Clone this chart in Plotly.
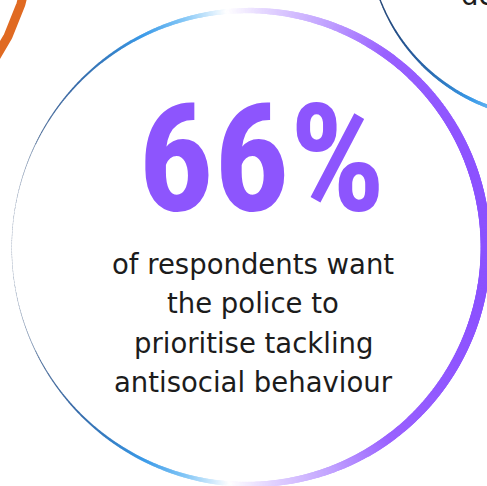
import numpy as np
import plotly.graph_objects as go

W, H = 487, 486

# Headline statistic and its caption
headline_value = 66
headline_suffix = "%"
caption_lines = [
    "of respondents want",
    "the police to",
    "prioritise tackling",
    "antisocial behaviour",
]
# Text of the neighbouring (cropped) panel
neighbour_label = "de"

# Horizontal gradient used on the ring outlines (position across ring, colour)
ring_gradient = [
    [0.00, "#0a2a5a"],
    [0.12, "#22579a"],
    [0.28, "#3a9ae8"],
    [0.37, "#86c8f7"],
    [0.46, "#ffffff"],
    [0.55, "#e2d3ff"],
    [0.68, "#c0a0ff"],
    [0.80, "#9a62ff"],
    [1.00, "#8c52ff"],
]

PURPLE = "#8d55fd"
TEXT = "#1c1c1c"
ORANGE = "#e06a22"
HEAD_FONT = ("Noto Sans ExtraCondensed, Roboto Condensed, Liberation Sans Narrow, "
             "DejaVu Sans Condensed, sans-serif")
BODY_FONT = "DejaVu Sans, sans-serif"


def crescent_ring(cx, cy, r, w0, d, n=2000):
    """Ring whose stroke thickens towards the right (offset outer circle)."""
    th = np.linspace(0, 2 * np.pi, n, endpoint=False)
    t = w0 + d * np.cos(th)
    rm = r + t / 2
    x = cx + rm * np.cos(th)
    y = cy + rm * np.sin(th)
    c = (x - (cx - r)) / (2 * r)
    return go.Scatter(
        x=x, y=y, mode="markers",
        marker=dict(size=t, color=c, colorscale=ring_gradient, cmin=0, cmax=1,
                    line=dict(width=0)),
        hoverinfo="skip", showlegend=False,
    )


def plain_ring(cx, cy, r, width, color, n=1200):
    th = np.linspace(0, 2 * np.pi, n)
    return go.Scatter(
        x=cx + r * np.cos(th), y=cy + r * np.sin(th), mode="lines",
        line=dict(color=color, width=width),
        hoverinfo="skip", showlegend=False,
    )


fig = go.Figure()
fig.add_trace(plain_ring(-210, -70, 242.5, 9, ORANGE))
fig.add_trace(crescent_ring(550, -66, 181.5, 5.0, 3.8))
fig.add_trace(crescent_ring(246.3, 247.5, 234.3, 5.3, 4.8))

fig.add_annotation(
    x=261, y=160, xref="x", yref="y", xanchor="center", yanchor="middle",
    text=f"{headline_value}{headline_suffix}", showarrow=False,
    font=dict(family=HEAD_FONT, size=150, color=PURPLE, weight=700),
)

caption_y = [264, 303, 343, 382]
for line, yy in zip(caption_lines, caption_y):
    fig.add_annotation(
        x=253, y=yy, xref="x", yref="y", xanchor="center", yanchor="middle",
        text=line, showarrow=False,
        font=dict(family=BODY_FONT, size=27.5, color=TEXT),
    )

fig.add_annotation(
    x=459, y=0, xref="x", yref="y", xanchor="left", yanchor="bottom", yshift=-13,
    text=neighbour_label, showarrow=False,
    font=dict(family=BODY_FONT, size=27.5, color=TEXT),
)

fig.update_layout(
    width=W, height=H, margin=dict(l=0, r=0, t=0, b=0),
    paper_bgcolor="white", plot_bgcolor="white", showlegend=False,
    xaxis=dict(range=[0, W], visible=False, fixedrange=True),
    yaxis=dict(range=[H, 0], visible=False, fixedrange=True),
)

fig.write_html("out.html")
